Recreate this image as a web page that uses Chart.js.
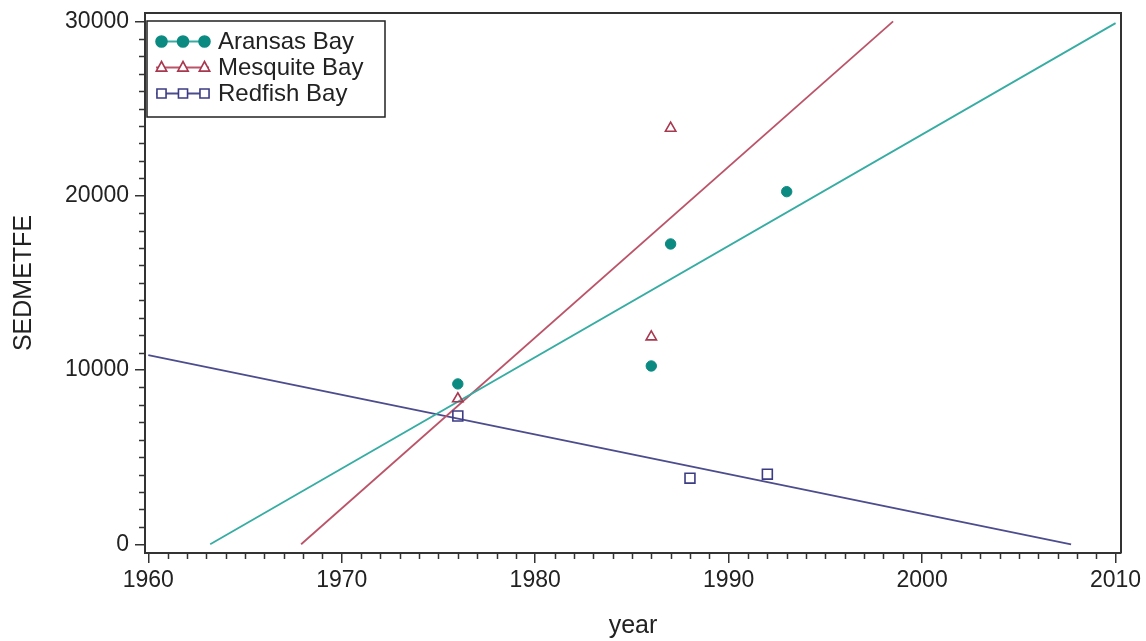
<!DOCTYPE html>
<html>
<head>
<meta charset="utf-8">
<script src="https://cdn.jsdelivr.net/npm/chart.js@4/dist/chart.umd.min.js"></script>
<style>
  html, body { margin: 0; padding: 0; background: #fff; }
  #chart { display: block; }
</style>
</head>
<body>
<canvas id="chart" width="1146" height="641"></canvas>
<script>
/* ---------- Data ---------- */

const aransasYears = [1976, 1986, 1987, 1993];
const aransasValues = [9200, 10230, 17230, 20230];

const mesquiteYears = [1976, 1986, 1987];
const mesquiteValues = [8350, 11900, 23870];

const redfishYears = [1976, 1988, 1992];
const redfishValues = [7360, 3790, 4020];

// fitted lines, end points
const aransasFitYears = [1963.2, 2010];
const aransasFitValues = [0, 29900];
const mesquiteFitYears = [1967.9, 1998.5];
const mesquiteFitValues = [0, 30000];
const redfishFitYears = [1960, 2007.7];
const redfishFitValues = [10850, 0];

const xMajorTicks = [1960, 1970, 1980, 1990, 2000, 2010];
const yMajorTicks = [0, 10000, 20000, 30000];

const labels = ["Aransas Bay", "Mesquite Bay", "Redfish Bay"];

/* ---------- Style ---------- */

const FONT = "'Liberation Sans', Arial, sans-serif";
const INK = "#222";
const AXIS = "#333";

const teal = { mark: "#0b8a81", line: "#36aca3" };
const rose = { mark: "#a8384f", line: "#bb5468" };
const navy = { mark: "#3c3c84", line: "#4c4c8e" };

const toPoints = (xs, ys) => xs.map((x, i) => ({ x, y: ys[i] }));

/* ---------- Plugins ---------- */

// minor ticks, every year / every 1000
const minorTicks = {
    id: "minorTicks",
    afterDraw(chart) {
        const { ctx, chartArea: a, scales: { x, y } } = chart;
        ctx.save();
        ctx.strokeStyle = AXIS;
        ctx.lineWidth = 1.5;
        ctx.beginPath();
        for (let v = xMajorTicks[0]; v <= xMajorTicks[xMajorTicks.length - 1]; v++) {
            if (xMajorTicks.includes(v)) continue;
            const px = Math.round(x.getPixelForValue(v)) + 0.5;
            ctx.moveTo(px, a.bottom);
            ctx.lineTo(px, a.bottom + 6);
        }
        for (let v = yMajorTicks[0]; v <= yMajorTicks[yMajorTicks.length - 1]; v += 1000) {
            if (yMajorTicks.includes(v)) continue;
            const py = Math.round(y.getPixelForValue(v)) + 0.5;
            ctx.moveTo(a.left, py);
            ctx.lineTo(a.left - 6, py);
        }
        ctx.stroke();

        // top and right edges of the frame
        ctx.lineWidth = 2;
        ctx.beginPath();
        ctx.moveTo(a.left, a.top);
        ctx.lineTo(a.right, a.top);
        ctx.lineTo(a.right, a.bottom);
        ctx.stroke();
        ctx.restore();
    }
};

function marker(ctx, style, x, y, r) {
    ctx.beginPath();
    if (style === "circle") {
        ctx.arc(x, y, r, 0, Math.PI * 2);
    } else if (style === "triangle") {
        ctx.moveTo(x, y - r);
        ctx.lineTo(x + r * 0.87, y + r * 0.6);
        ctx.lineTo(x - r * 0.87, y + r * 0.6);
        ctx.closePath();
    } else {
        ctx.rect(x - r * 0.7, y - r * 0.7, r * 1.4, r * 1.4);
    }
    ctx.fill();
    ctx.stroke();
}

// boxed legend inside the plot, three markers on a line per entry
const boxLegend = {
    id: "boxLegend",
    afterDraw(chart) {
        const { ctx, chartArea: a } = chart;
        const left = a.left + 2, top = a.top + 8;
        ctx.save();
        ctx.fillStyle = "#fff";
        ctx.fillRect(left, top, 238, 96);
        ctx.strokeStyle = INK;
        ctx.lineWidth = 1.5;
        ctx.strokeRect(left, top, 238, 96);

        const entries = [
            { c: teal, style: "circle", r: 5.5, fill: teal.mark },
            { c: rose, style: "triangle", r: 6, fill: "#fff" },
            { c: navy, style: "rect", r: 6.5, fill: "#fff" }
        ];
        entries.forEach((e, i) => {
            const cy = top + 20.5 + i * 26;
            ctx.strokeStyle = e.c.line;
            ctx.lineWidth = 2.2;
            ctx.beginPath();
            ctx.moveTo(left + 9, cy);
            ctx.lineTo(left + 62, cy);
            ctx.stroke();
            ctx.strokeStyle = e.c.mark;
            ctx.fillStyle = e.fill;
            ctx.lineWidth = 1.6;
            [14.5, 36, 57.5].forEach(dx => marker(ctx, e.style, left + dx, cy, e.r));
            ctx.fillStyle = INK;
            ctx.font = "24px " + FONT;
            ctx.textBaseline = "middle";
            ctx.fillText(labels[i], left + 71, cy + 1);
        });
        ctx.restore();
    }
};

/* ---------- Chart ---------- */

const tickFont = { family: FONT, size: 23 };

new Chart(document.getElementById("chart"), {
    type: "scatter",
    data: {
        datasets: [
            {
                label: labels[0],
                data: toPoints(aransasYears, aransasValues),
                pointStyle: "circle",
                pointRadius: 5.2,
                backgroundColor: teal.mark,
                borderColor: teal.mark,
                borderWidth: 1
            },
            {
                label: labels[1],
                data: toPoints(mesquiteYears, mesquiteValues),
                pointStyle: "triangle",
                pointRadius: 6,
                backgroundColor: "rgba(255,255,255,0)",
                borderColor: rose.mark,
                borderWidth: 1.6
            },
            {
                label: labels[2],
                data: toPoints(redfishYears, redfishValues),
                pointStyle: "rect",
                pointRadius: 7,
                backgroundColor: "rgba(255,255,255,0)",
                borderColor: navy.mark,
                borderWidth: 1.6
            },
            {
                data: toPoints(aransasFitYears, aransasFitValues),
                showLine: true,
                pointRadius: 0,
                borderColor: teal.line,
                borderWidth: 1.8
            },
            {
                data: toPoints(mesquiteFitYears, mesquiteFitValues),
                showLine: true,
                pointRadius: 0,
                borderColor: rose.line,
                borderWidth: 1.8
            },
            {
                data: toPoints(redfishFitYears, redfishFitValues),
                showLine: true,
                pointRadius: 0,
                borderColor: navy.line,
                borderWidth: 1.8
            }
        ]
    },
    options: {
        responsive: false,
        animation: false,
        events: [],
        layout: { padding: { top: 13, right: 25, left: 0, bottom: 0 } },
        plugins: { legend: { display: false }, tooltip: { enabled: false } },
        scales: {
            x: {
                type: "linear",
                min: 1959.83,
                max: 2010.28,
                afterBuildTicks: s => { s.ticks = xMajorTicks.map(value => ({ value })); },
                afterFit: s => { s.height = 88; s.paddingLeft = 0; s.paddingRight = 0; },
                grid: { drawOnChartArea: false, tickLength: 10, color: AXIS, lineWidth: 1.5 },
                border: { display: true, color: AXIS, width: 2 },
                ticks: { color: INK, font: tickFont, padding: 4, maxRotation: 0, callback: v => String(v) },
                title: { display: true, text: "year", color: INK, font: { family: FONT, size: 25 }, padding: { top: 0, bottom: 0 } }
            },
            y: {
                type: "linear",
                min: -500,
                max: 30480,
                afterBuildTicks: s => { s.ticks = yMajorTicks.map(value => ({ value })); },
                afterFit: s => { s.width = 145; s.paddingTop = 0; s.paddingBottom = 0; },
                grid: { drawOnChartArea: false, tickLength: 10, color: AXIS, lineWidth: 1.5 },
                border: { display: true, color: AXIS, width: 2 },
                ticks: { color: INK, font: tickFont, padding: 6, callback: v => String(v) },
                title: { display: true, text: "SEDMETFE", color: INK, font: { family: FONT, size: 25 }, padding: { top: 9, bottom: 0 } }
            }
        }
    },
    plugins: [minorTicks, boxLegend]
});
</script>
</body>
</html>
